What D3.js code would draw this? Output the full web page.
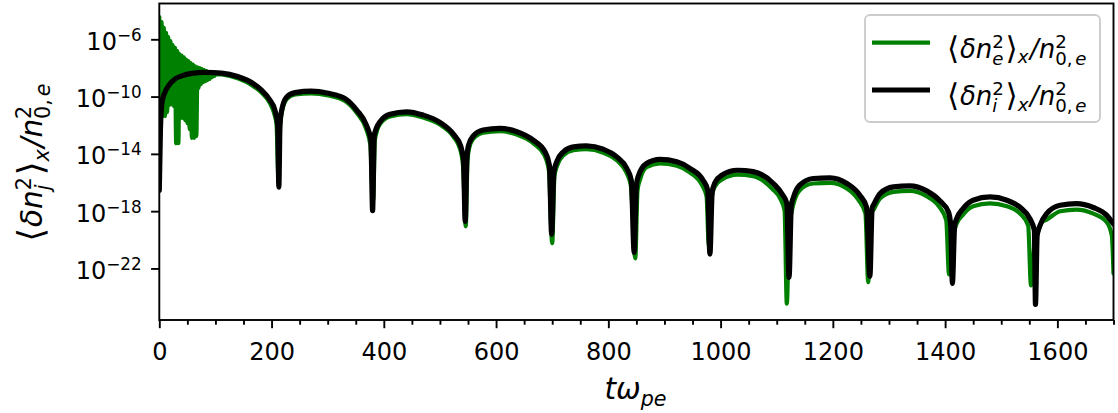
<!DOCTYPE html>
<html>
<head>
<meta charset="utf-8">
<script src="https://cdn.jsdelivr.net/npm/d3@7"></script>
<style>
  html, body { margin: 0; padding: 0; background: #fff; }
  svg { display: block; font-family: "DejaVu Sans", sans-serif; }
</style>
</head>
<body>
<svg id="chart" width="1118" height="413"></svg>
<script>
// Ion density fluctuation <dn_i^2>_x / n_0e^2 versus t*w_pe
const ionTime = [0, 2, 5, 10, 16, 28, 40, 58, 81, 111, 141, 165, 182, 197, 206, 211, 213, 215, 218, 227,
  242, 271, 301, 331, 352, 369, 377, 380, 383, 393, 411, 441, 470, 500, 524, 537, 542, 545, 548, 551,
  559, 577, 607, 637, 666, 687, 695, 699, 703, 708, 720, 738, 761, 791, 815, 833, 841, 846, 850, 853,
  868, 892, 922, 946, 969, 977, 981, 985, 990, 1002, 1030, 1058, 1094, 1109, 1118, 1122, 1126, 1130, 1141, 1165,
  1195, 1225, 1248, 1260, 1266, 1270, 1274, 1284, 1308, 1337, 1367, 1391, 1406, 1410, 1413, 1417, 1421, 1432, 1450, 1480,
  1510, 1534, 1551, 1559, 1561, 1564, 1569, 1581, 1605, 1634, 1664, 1688, 1700];
const ionValue = [2.9e-17, 4.6e-13, 4.2e-11, 2.0e-10, 5.4e-10, 1.7e-9, 2.8e-9, 4.2e-9, 4.9e-9, 4.4e-9, 2.4e-9, 9.3e-10, 2.8e-10, 5.8e-11, 1.1e-11, 1.0e-12, 4.7e-17, 1.0e-12, 1.1e-11, 9.3e-11,
  1.9e-10, 2.4e-10, 1.7e-10, 7.2e-11, 1.1e-11, 1.0e-12, 9.1e-14, 1.1e-18, 2.0e-13, 1.7e-12, 5.8e-12, 8.7e-12, 5.1e-12, 1.6e-12, 2.4e-13, 3.5e-14, 3.6e-15, 1.9e-19, 5.0e-15, 4.1e-14,
  1.7e-13, 4.6e-13, 6.0e-13, 3.5e-13, 9.1e-14, 1.4e-14, 1.6e-15, 2.4e-20, 5.2e-16, 2.8e-15, 1.4e-14, 3.1e-14, 3.6e-14, 2.1e-14, 6.2e-15, 9.5e-16, 1.4e-16, 1.3e-21, 6.5e-17, 2.5e-16,
  2.1e-15, 4.1e-15, 2.8e-15, 9.5e-16, 1.4e-16, 2.9e-17, 9.8e-22, 2.1e-17, 1.0e-16, 3.2e-16, 7.2e-16, 5.8e-16, 8.5e-17, 1.7e-17, 3.5e-18, 2.4e-23, 2.6e-18, 9.8e-18, 6.5e-17, 1.9e-16,
  2.1e-16, 8.5e-17, 1.3e-17, 1.9e-18, 2.8e-23, 1.6e-18, 3.5e-18, 1.7e-17, 4.9e-17, 5.8e-17, 2.6e-17, 5.1e-18, 8.7e-19, 1.0e-19, 9.1e-24, 1.0e-19, 3.2e-19, 1.5e-18, 5.8e-18, 9.8e-18,
  5.8e-18, 1.8e-18, 3.0e-19, 4.6e-20, 3.1e-25, 2.0e-20, 1.0e-19, 6.8e-19, 2.6e-18, 3.4e-18, 1.8e-18, 5.1e-19, 1.3e-19];

// Electron density fluctuation <dn_e^2>_x / n_0e^2 versus t*w_pe (fast ringing at early times)
const electronTime = [0, 2, 4, 6, 8, 10, 12, 14, 16, 18, 20, 22, 24, 26, 28, 30, 32, 34, 36, 38,
  40, 42, 44, 46, 48, 50, 52, 54, 56, 58, 60, 62, 64, 66, 68, 70, 72, 74, 76, 78,
  80, 82, 84, 86, 88, 90, 92, 94, 96, 98, 100, 111, 141, 165, 182, 197, 205, 209, 212, 215,
  218, 227, 242, 271, 301, 331, 352, 368, 376, 379, 381, 384, 393, 411, 441, 470, 500, 524, 536, 541,
  546, 549, 552, 559, 577, 607, 637, 666, 686, 694, 700, 704, 709, 720, 738, 761, 791, 815, 832, 840,
  848, 852, 856, 868, 892, 922, 945, 967, 975, 979, 984, 990, 1002, 1030, 1058, 1092, 1106, 1114, 1118, 1122,
  1127, 1131, 1141, 1165, 1195, 1225, 1246, 1258, 1263, 1268, 1274, 1284, 1308, 1337, 1367, 1389, 1402, 1407, 1413, 1420,
  1432, 1450, 1480, 1510, 1534, 1548, 1553, 1560, 1566, 1572, 1581, 1605, 1634, 1664, 1688, 1697, 1700];
const electronValue = [3.6e-5, 6.0e-12, 1.6e-5, 4.4e-12, 6.2e-6, 4.4e-12, 2.8e-6, 8.3e-12, 1.4e-6, 2.6e-11, 7.6e-7, 3.0e-11, 4.0e-7, 2.2e-11, 2.5e-7, 5.6e-14, 1.5e-7, 5.6e-14, 9.3e-8, 3.2e-12,
  7.4e-8, 3.2e-12, 5.4e-8, 2.3e-12, 3.9e-8, 1.4e-12, 3.0e-8, 5.4e-13, 2.2e-8, 1.3e-13, 1.7e-8, 1.3e-13, 1.3e-8, 1.7e-13, 1.1e-8, 3.9e-10, 9.8e-9, 7.4e-10, 8.3e-9, 1.0e-9,
  7.1e-9, 1.2e-9, 6.0e-9, 1.4e-9, 5.1e-9, 1.7e-9, 4.4e-9, 2.3e-9, 4.1e-9, 2.7e-9, 3.7e-9, 3.5e-9, 1.8e-9, 6.3e-10, 1.9e-10, 3.5e-11, 6.0e-12, 1.0e-12, 3.2e-16, 6.3e-13,
  7.1e-12, 6.8e-11, 1.4e-10, 1.7e-10, 1.2e-10, 4.9e-11, 7.1e-12, 6.3e-13, 4.1e-14, 6.5e-17, 5.8e-18, 9.1e-14, 1.2e-12, 4.1e-12, 6.0e-12, 3.4e-12, 1.1e-12, 1.6e-13, 2.1e-14, 1.6e-15,
  8.7e-20, 2.6e-15, 2.5e-14, 1.1e-13, 3.0e-13, 3.9e-13, 2.2e-13, 5.6e-14, 8.1e-15, 7.2e-16, 5.8e-21, 2.8e-16, 1.6e-15, 8.1e-15, 1.8e-14, 2.1e-14, 1.2e-14, 3.6e-15, 5.2e-16, 6.5e-17,
  5.1e-22, 2.9e-17, 1.4e-16, 1.2e-15, 2.2e-15, 1.5e-15, 5.2e-16, 6.5e-17, 1.1e-17, 4.2e-21, 7.9e-18, 5.5e-17, 1.6e-16, 3.5e-16, 2.8e-16, 3.7e-17, 7.9e-18, 1.1e-18, 3.5e-25, 4.6e-20,
  1.1e-18, 4.6e-18, 2.9e-17, 8.5e-17, 9.3e-17, 3.8e-17, 5.8e-18, 7.1e-19, 1.1e-23, 5.1e-19, 1.6e-18, 7.6e-18, 2.2e-17, 2.6e-17, 1.1e-17, 2.2e-18, 2.3e-19, 3.8e-23, 9.3e-21, 1.2e-19,
  5.8e-19, 2.2e-18, 3.5e-18, 2.2e-18, 6.6e-19, 1.0e-19, 6.5e-24, 9.3e-21, 3.9e-20, 1.7e-19, 2.6e-19, 9.8e-19, 1.3e-18, 6.8e-19, 1.7e-19, 2.0e-20, 4.5e-23];

const xMajorTicks = [0, 200, 400, 600, 800, 1000, 1200, 1400, 1600];
const xMinorTicks = [50, 100, 150, 250, 300, 350, 450, 500, 550, 650, 700, 750, 850, 900, 950,
  1050, 1100, 1150, 1250, 1300, 1350, 1450, 1500, 1550, 1650, 1700];
const yTickExponents = [-22, -18, -14, -10, -6];

const svg = d3.select("#chart");
const box = { left: 159.3, right: 1113.5, top: 3.5, bottom: 320 };

const x = d3.scaleLinear().domain([0, 1700]).range([box.left, box.right]);
const y = d3.scaleLog().domain([Math.pow(10, -25.6), Math.pow(10, -3.5)]).range([box.bottom, box.top]);

const tickFont = 24, labelFont = 29.5, legendFont = 26;
const tickWidth = 1.9, majorLen = 8.2, minorLen = 4.7;

// Width of a run of text at a given size/style
function measure(str, size, italic) {
  const t = svg.append("text")
    .attr("font-size", size)
    .attr("font-style", italic ? "italic" : "normal")
    .text(str);
  const w = t.node().getComputedTextLength();
  t.remove();
  return w;
}

// Lays out a small piece of math inside one <text>: runs plus stacked super/subscripts.
function mathText(parent, parts, fs, anchor) {
  const spans = [];
  let cx = 0;
  const run = (items, size, dy) => {
    let w = 0;
    for (const it of items) {
      const s = size * (it.scale || 1);
      spans.push({ x: cx + w, y: dy + (it.dy || 0) * fs, size: s, i: it.i, t: it.t });
      w += measure(it.t, s, it.i) + (it.gap || 0) * fs;
    }
    return w;
  };
  for (const p of parts) {
    if (p.t !== undefined) {
      cx += run([p], fs, 0);
    } else {
      const both = p.sup && p.sub;
      let w1 = 0, w2 = 0;
      if (p.sup) w1 = run(p.sup, fs * 0.7, -0.37 * fs);
      if (p.sub) w2 = run(p.sub, fs * 0.7, (both ? 0.28 : 0.22) * fs);
      cx += Math.max(w1, w2) + 0.06 * fs;
    }
  }
  const shift = anchor === "middle" ? -cx / 2 : anchor === "end" ? -cx : 0;
  const text = parent.append("text").attr("fill", "#000");
  spans.forEach(s => {
    text.append("tspan")
      .attr("x", s.x + shift).attr("y", s.y)
      .attr("font-size", s.size)
      .attr("font-style", s.i ? "italic" : "normal")
      .text(s.t);
  });
  return text;
}

// <dn_s^2>_x / n_{0,e}^2 for a given species subscript
const densityLabel = species => [
  { t: "\u27E8", scale: 1.2, dy: 0.05, gap: 0.03 }, { t: "\u03B4n", i: 1 },
  { sup: [{ t: "2" }], sub: [{ t: species, i: 1 }] },
  { t: "\u27E9", scale: 1.2, dy: 0.05 }, { sub: [{ t: "x", i: 1 }] }, { t: "/n", i: 1 },
  { sup: [{ t: "2" }], sub: [{ t: "0,", gap: 0.1 }, { t: "e", i: 1 }] }
];

// Clip the curves to the axes box
svg.append("defs").append("clipPath").attr("id", "plotClip")
  .append("rect")
  .attr("x", box.left).attr("y", box.top)
  .attr("width", box.right - box.left).attr("height", box.bottom - box.top);

const line = d3.line()
  .x(d => x(d[0]))
  .y(d => y(d[1]))
  .curve(d3.curveMonotoneX);

const electronPts = electronTime.map((t, i) => [t, electronValue[i]]);
const ionPts = ionTime.map((t, i) => [t, ionValue[i]]);

const curves = svg.append("g").attr("clip-path", "url(#plotClip)");
curves.append("path")
  .attr("d", line(electronPts))
  .attr("fill", "none").attr("stroke", "#008000")
  .attr("stroke-width", 4.2).attr("stroke-linejoin", "round").attr("stroke-linecap", "round");
curves.append("path")
  .attr("d", line(ionPts))
  .attr("fill", "none").attr("stroke", "#000000")
  .attr("stroke-width", 5.2).attr("stroke-linejoin", "round").attr("stroke-linecap", "round");

// x axis
const xAxis = svg.append("g").attr("transform", `translate(0,${box.bottom})`)
  .call(d3.axisBottom(x).tickValues(xMajorTicks).tickSize(majorLen).tickSizeOuter(0).tickFormat(d3.format("d")));
xAxis.select(".domain").remove();
xAxis.selectAll(".tick line").attr("stroke", "#000").attr("stroke-width", tickWidth);
xAxis.selectAll(".tick text")
  .attr("font-family", "DejaVu Sans").attr("font-size", tickFont).attr("fill", "#000")
  .attr("y", 39.5).attr("dy", null);

const xMinor = svg.append("g").attr("transform", `translate(0,${box.bottom})`)
  .call(d3.axisBottom(x).tickValues(xMinorTicks).tickSize(minorLen).tickSizeOuter(0).tickFormat(""));
xMinor.select(".domain").remove();
xMinor.selectAll(".tick line").attr("stroke", "#000").attr("stroke-width", tickWidth);

// y axis (log, decades labelled as powers of ten)
const yVals = yTickExponents.map(e => Math.pow(10, e));
const yAxis = svg.append("g").attr("transform", `translate(${box.left},0)`)
  .call(d3.axisLeft(y).tickValues(yVals).tickSize(majorLen).tickSizeOuter(0).tickFormat(""));
yAxis.select(".domain").remove();
yAxis.selectAll(".tick line").attr("stroke", "#000").attr("stroke-width", tickWidth);

yTickExponents.forEach(e => {
  mathText(svg, [{ t: "10" }, { sup: [{ t: "\u2212" + Math.abs(e) }] }], tickFont, "end")
    .attr("transform", `translate(${box.left - majorLen - 8},${y(Math.pow(10, e)) + 10.5})`);
});

// axes frame
svg.append("rect")
  .attr("x", box.left).attr("y", box.top)
  .attr("width", box.right - box.left).attr("height", box.bottom - box.top)
  .attr("fill", "none").attr("stroke", "#000").attr("stroke-width", tickWidth);

// axis titles
mathText(svg, [{ t: "t\u03C9", i: 1 }, { sub: [{ t: "pe", i: 1 }] }], labelFont, "middle")
  .attr("transform", `translate(${(box.left + box.right) / 2},399)`);

mathText(svg, densityLabel("j"), labelFont, "middle")
  .attr("transform", `translate(42,${(box.top + box.bottom) / 2}) rotate(-90)`);

// legend
const legend = svg.append("g");
legend.append("rect")
  .attr("x", 865).attr("y", 15).attr("width", 235).attr("height", 107).attr("rx", 5)
  .attr("fill", "#fff").attr("fill-opacity", 0.8)
  .attr("stroke", "#cccccc").attr("stroke-width", 1.9);

const legendEntries = [
  { color: "#008000", width: 4.2, species: "e", yPos: 42.7 },
  { color: "#000000", width: 5.2, species: "i", yPos: 90 }
];
legendEntries.forEach(en => {
  legend.append("line")
    .attr("x1", 872).attr("x2", 930).attr("y1", en.yPos).attr("y2", en.yPos)
    .attr("stroke", en.color).attr("stroke-width", en.width);
  mathText(legend, densityLabel(en.species), legendFont, "start")
    .attr("transform", `translate(947,${en.yPos + 15})`);
});
</script>
</body>
</html>
